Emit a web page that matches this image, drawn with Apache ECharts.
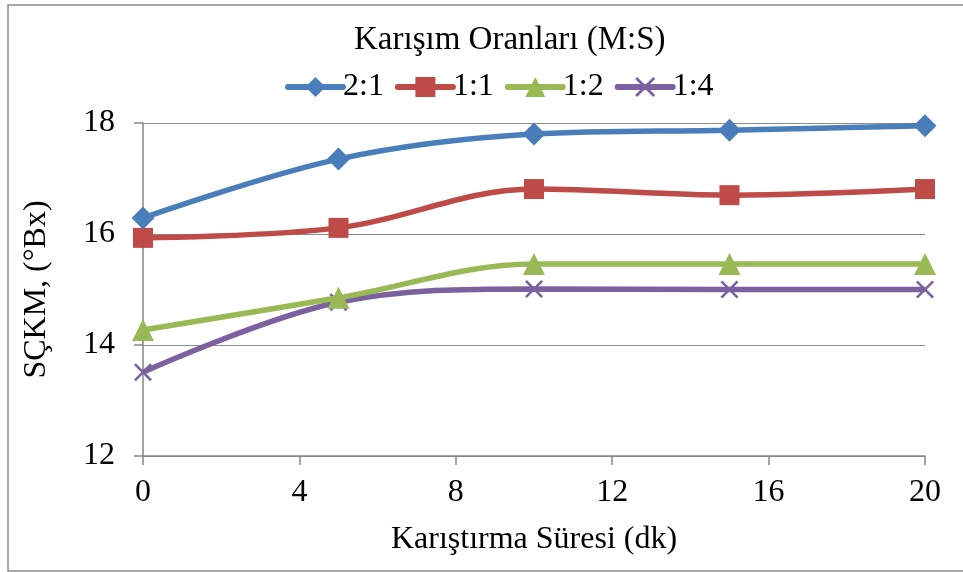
<!DOCTYPE html>
<html>
<head>
<meta charset="utf-8">
<script src="https://cdn.jsdelivr.net/npm/echarts@6/dist/echarts.min.js"></script>
<style>
html,body{margin:0;padding:0;background:#fff;}
#c{width:963px;height:572px;}
</style>
</head>
<body>
<div id="c"></div>
<script>
const xValues = [0, 5, 10, 15, 20];
const seriesNames = ['2:1', '1:1', '1:2', '1:4'];
const s21 = [16.29, 17.35, 17.80, 17.87, 17.95];
const s11 = [15.93, 16.11, 16.81, 16.70, 16.81];
const s12 = [14.27, 14.85, 15.46, 15.46, 15.46];
const s14 = [13.51, 14.77, 15.01, 15.00, 15.00];
const xTicks = [0, 4, 8, 12, 16, 20];
const yTicks = [12, 14, 16, 18];

const font = '"Liberation Serif", "Times New Roman", serif';
const colors = ['#4A7EBB', '#BE4B48', '#98B954', '#7D60A0'];
const symbols = ['diamond', 'rect', 'triangle',
  'path://M0,1L1,0L5,4L9,0L10,1L6,5L10,9L9,10L5,6L1,10L0,9L4,5Z'];
const sizes = [23, 20, 22, 18];
const allData = [s21, s11, s12, s14];
const FS = 32;

const chart = echarts.init(document.getElementById('c'));
chart.setOption({
  animation: false,
  backgroundColor: '#fff',
  color: colors,
  graphic: [{
    type: 'rect', silent: true, z: -1,
    shape: {x: 8, y: 5, width: 1000, height: 566},
    style: {fill: 'none', stroke: '#8a8a8a', lineWidth: 1.5}
  }],
  title: {
    text: 'Karışım Oranları (M:S)',
    left: 354, top: 24,
    textStyle: {fontFamily: font, fontSize: 33, fontWeight: 'normal', color: '#000'},
    padding: 0
  },
  legend: {
    top: 66, left: 280,
    itemWidth: 55, itemHeight: 25, itemGap: 11,
    textStyle: {fontFamily: font, fontSize: 32, color: '#000', padding: [0, 0, 0, -5]},
    lineStyle: {width: 6, cap: 'round'},
    data: seriesNames
  },
  grid: {left: 143, right: 38, top: 123, bottom: 116},
  xAxis: {
    type: 'value', min: 0, max: 20, interval: 4,
    name: 'Karıştırma Süresi (dk)', nameLocation: 'middle', nameGap: 68,
    nameTextStyle: {fontFamily: font, fontSize: FS, color: '#000'},
    axisLine: {show: true, onZero: false, lineStyle: {color: '#868686', width: 1.5}},
    axisTick: {show: true, length: 9, lineStyle: {color: '#868686', width: 1.5}},
    axisLabel: {fontFamily: font, fontSize: FS, color: '#000', margin: 21,
      formatter: v => xTicks.includes(v) ? String(v) : ''},
    splitLine: {show: false}
  },
  yAxis: {
    type: 'value', min: 12, max: 18, interval: 2,
    name: 'SÇKM, (°Bx)', nameLocation: 'middle', nameGap: 90,
    nameTextStyle: {fontFamily: font, fontSize: FS, color: '#000'},
    axisLine: {show: true, lineStyle: {color: '#868686', width: 1.5}},
    axisTick: {show: true, length: 9, lineStyle: {color: '#868686', width: 1.5}},
    axisLabel: {fontFamily: font, fontSize: FS, color: '#000', margin: 28,
      formatter: v => yTicks.includes(v) ? String(v) : ''},
    splitLine: {show: true, lineStyle: {color: '#8c8c8c', width: 1.2}}
  },
  series: seriesNames.map((n, i) => ({
    name: n, type: 'line', smooth: 0.35,
    data: xValues.map((x, j) => [x, allData[i][j]]),
    symbol: symbols[i], symbolSize: sizes[i],
    showSymbol: true,
    lineStyle: {width: 5.5, color: colors[i]},
    itemStyle: {color: colors[i], borderWidth: 0},
    z: 10 - i
  }))
});
</script>
</body>
</html>
